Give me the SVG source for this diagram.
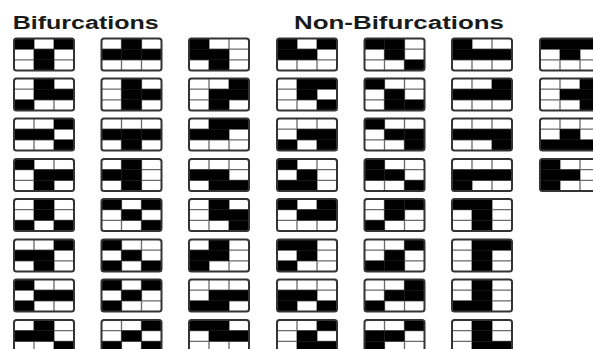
<svg xmlns="http://www.w3.org/2000/svg" xmlns:xlink="http://www.w3.org/1999/xlink" width="593" height="349" viewBox="0 0 593 349">
<style>
.ttl{font-family:"Liberation Sans",Arial,sans-serif;font-weight:bold;font-size:18px;fill:#1a1a1a}
.ln{fill:none;stroke:#6a6a6a;stroke-width:1.3}
.bd{fill:none;stroke:#333;stroke-width:2}
.k{fill:#000}
</style>
<defs>
<rect id="bg" x="0" y="0" width="60" height="32" fill="#fff"/>
<path id="lines" class="ln" d="M20 0V32M40 0V32M0 10.667H60M0 21.333H60"/>
<rect id="border" class="bd" x="0" y="0" width="60" height="32" rx="2.5"/>
<rect id="k0" class="k" x="0" y="0" width="20" height="10.667"/>
<rect id="k1" class="k" x="20" y="0" width="20" height="10.667"/>
<rect id="k2" class="k" x="40" y="0" width="20" height="10.667"/>
<rect id="k3" class="k" x="0" y="10.667" width="20" height="10.667"/>
<rect id="k4" class="k" x="20" y="10.667" width="20" height="10.667"/>
<rect id="k5" class="k" x="40" y="10.667" width="20" height="10.667"/>
<rect id="k6" class="k" x="0" y="21.333" width="20" height="10.667"/>
<rect id="k7" class="k" x="20" y="21.333" width="20" height="10.667"/>
<rect id="k8" class="k" x="40" y="21.333" width="20" height="10.667"/>
</defs>
<rect width="593" height="349" fill="#fff"/>
<g id="titles">
<text class="ttl" x="12.7" y="29" textLength="146" lengthAdjust="spacingAndGlyphs">Bifurcations</text>
<text class="ttl" x="294" y="29" textLength="210" lengthAdjust="spacingAndGlyphs">Non-Bifurcations</text>
</g>
<!-- Column 1 -->
<g id="b1r1" transform="translate(14,38.5)"><use href="#lines"/><use href="#k0"/><use href="#k2"/><use href="#k4"/><use href="#k7"/><use href="#border"/></g>
<g id="b1r2" transform="translate(14,78.5)"><use href="#lines"/><use href="#k1"/><use href="#k4"/><use href="#k5"/><use href="#k6"/><use href="#border"/></g>
<g id="b1r3" transform="translate(14,118.5)"><use href="#lines"/><use href="#k2"/><use href="#k3"/><use href="#k4"/><use href="#k8"/><use href="#border"/></g>
<g id="b1r4" transform="translate(14,159)"><use href="#lines"/><use href="#k0"/><use href="#k4"/><use href="#k5"/><use href="#k7"/><use href="#border"/></g>
<g id="b1r5" transform="translate(14,199)"><use href="#lines"/><use href="#k1"/><use href="#k4"/><use href="#k6"/><use href="#k8"/><use href="#border"/></g>
<g id="b1r6" transform="translate(14,239.5)"><use href="#lines"/><use href="#k2"/><use href="#k3"/><use href="#k4"/><use href="#k7"/><use href="#border"/></g>
<g id="b1r7" transform="translate(14,279.5)"><use href="#lines"/><use href="#k0"/><use href="#k4"/><use href="#k5"/><use href="#k6"/><use href="#border"/></g>
<g id="b1r8" transform="translate(14,320)"><use href="#lines"/><use href="#k1"/><use href="#k3"/><use href="#k4"/><use href="#k8"/><use href="#border"/></g>
<!-- Column 2 -->
<g id="b2r1" transform="translate(101.5,38.5)"><use href="#lines"/><use href="#k1"/><use href="#k3"/><use href="#k4"/><use href="#k5"/><use href="#border"/></g>
<g id="b2r2" transform="translate(101.5,78.5)"><use href="#lines"/><use href="#k1"/><use href="#k4"/><use href="#k5"/><use href="#k7"/><use href="#border"/></g>
<g id="b2r3" transform="translate(101.5,118.5)"><use href="#lines"/><use href="#k3"/><use href="#k4"/><use href="#k5"/><use href="#k7"/><use href="#border"/></g>
<g id="b2r4" transform="translate(101.5,159)"><use href="#lines"/><use href="#k1"/><use href="#k3"/><use href="#k4"/><use href="#k7"/><use href="#border"/></g>
<g id="b2r5" transform="translate(101.5,199)"><use href="#lines"/><use href="#k0"/><use href="#k2"/><use href="#k4"/><use href="#k8"/><use href="#border"/></g>
<g id="b2r6" transform="translate(101.5,239.5)"><use href="#lines"/><use href="#k0"/><use href="#k4"/><use href="#k6"/><use href="#k8"/><use href="#border"/></g>
<g id="b2r7" transform="translate(101.5,279.5)"><use href="#lines"/><use href="#k0"/><use href="#k2"/><use href="#k4"/><use href="#k6"/><use href="#border"/></g>
<g id="b2r8" transform="translate(101.5,320)"><use href="#lines"/><use href="#k2"/><use href="#k4"/><use href="#k6"/><use href="#k8"/><use href="#border"/></g>
<!-- Column 3 -->
<g id="b3r1" transform="translate(189,38.5)"><use href="#lines"/><use href="#k0"/><use href="#k3"/><use href="#k4"/><use href="#k7"/><use href="#border"/></g>
<g id="b3r2" transform="translate(189,78.5)"><use href="#lines"/><use href="#k2"/><use href="#k4"/><use href="#k5"/><use href="#k7"/><use href="#border"/></g>
<g id="b3r3" transform="translate(189,118.5)"><use href="#lines"/><use href="#k1"/><use href="#k2"/><use href="#k3"/><use href="#k4"/><use href="#border"/></g>
<g id="b3r4" transform="translate(189,159)"><use href="#lines"/><use href="#k3"/><use href="#k4"/><use href="#k7"/><use href="#k8"/><use href="#border"/></g>
<g id="b3r5" transform="translate(189,199)"><use href="#lines"/><use href="#k1"/><use href="#k4"/><use href="#k5"/><use href="#k8"/><use href="#border"/></g>
<g id="b3r6" transform="translate(189,239.5)"><use href="#lines"/><use href="#k1"/><use href="#k3"/><use href="#k4"/><use href="#k6"/><use href="#border"/></g>
<g id="b3r7" transform="translate(189,279.5)"><use href="#lines"/><use href="#k4"/><use href="#k5"/><use href="#k6"/><use href="#k7"/><use href="#border"/></g>
<g id="b3r8" transform="translate(189,320)"><use href="#lines"/><use href="#k0"/><use href="#k1"/><use href="#k4"/><use href="#k5"/><use href="#border"/></g>
<!-- Column 4 -->
<g id="n4r1" transform="translate(277,38.5)"><use href="#lines"/><use href="#k0"/><use href="#k2"/><use href="#k3"/><use href="#k4"/><use href="#border"/></g>
<g id="n4r2" transform="translate(277,78.5)"><use href="#lines"/><use href="#k1"/><use href="#k2"/><use href="#k4"/><use href="#k8"/><use href="#border"/></g>
<g id="n4r3" transform="translate(277,118.5)"><use href="#lines"/><use href="#k4"/><use href="#k5"/><use href="#k6"/><use href="#k8"/><use href="#border"/></g>
<g id="n4r4" transform="translate(277,159)"><use href="#lines"/><use href="#k0"/><use href="#k4"/><use href="#k6"/><use href="#k7"/><use href="#border"/></g>
<g id="n4r5" transform="translate(277,199)"><use href="#lines"/><use href="#k0"/><use href="#k2"/><use href="#k4"/><use href="#k5"/><use href="#border"/></g>
<g id="n4r6" transform="translate(277,239.5)"><use href="#lines"/><use href="#k0"/><use href="#k1"/><use href="#k4"/><use href="#k6"/><use href="#border"/></g>
<g id="n4r7" transform="translate(277,279.5)"><use href="#lines"/><use href="#k3"/><use href="#k4"/><use href="#k6"/><use href="#k8"/><use href="#border"/></g>
<g id="n4r8" transform="translate(277,320)"><use href="#lines"/><use href="#k2"/><use href="#k4"/><use href="#k7"/><use href="#k8"/><use href="#border"/></g>
<!-- Column 5 -->
<g id="n5r1" transform="translate(364.5,38.5)"><use href="#lines"/><use href="#k0"/><use href="#k1"/><use href="#k4"/><use href="#k8"/><use href="#border"/></g>
<g id="n5r2" transform="translate(364.5,78.5)"><use href="#lines"/><use href="#k0"/><use href="#k4"/><use href="#k7"/><use href="#k8"/><use href="#border"/></g>
<g id="n5r3" transform="translate(364.5,118.5)"><use href="#lines"/><use href="#k0"/><use href="#k4"/><use href="#k5"/><use href="#k8"/><use href="#border"/></g>
<g id="n5r4" transform="translate(364.5,159)"><use href="#lines"/><use href="#k0"/><use href="#k3"/><use href="#k4"/><use href="#k8"/><use href="#border"/></g>
<g id="n5r5" transform="translate(364.5,199)"><use href="#lines"/><use href="#k1"/><use href="#k2"/><use href="#k4"/><use href="#k6"/><use href="#border"/></g>
<g id="n5r6" transform="translate(364.5,239.5)"><use href="#lines"/><use href="#k2"/><use href="#k4"/><use href="#k6"/><use href="#k7"/><use href="#border"/></g>
<g id="n5r7" transform="translate(364.5,279.5)"><use href="#lines"/><use href="#k2"/><use href="#k4"/><use href="#k5"/><use href="#k6"/><use href="#border"/></g>
<g id="n5r8" transform="translate(364.5,320)"><use href="#lines"/><use href="#k2"/><use href="#k3"/><use href="#k4"/><use href="#k6"/><use href="#border"/></g>
<!-- Column 6 -->
<g id="n6r1" transform="translate(452,38.5)"><use href="#lines"/><use href="#k0"/><use href="#k3"/><use href="#k4"/><use href="#k5"/><use href="#border"/></g>
<g id="n6r2" transform="translate(452,78.5)"><use href="#lines"/><use href="#k2"/><use href="#k3"/><use href="#k4"/><use href="#k5"/><use href="#border"/></g>
<g id="n6r3" transform="translate(452,118.5)"><use href="#lines"/><use href="#k3"/><use href="#k4"/><use href="#k5"/><use href="#k8"/><use href="#border"/></g>
<g id="n6r4" transform="translate(452,159)"><use href="#lines"/><use href="#k3"/><use href="#k4"/><use href="#k5"/><use href="#k6"/><use href="#border"/></g>
<g id="n6r5" transform="translate(452,199)"><use href="#lines"/><use href="#k0"/><use href="#k1"/><use href="#k4"/><use href="#k7"/><use href="#border"/></g>
<g id="n6r6" transform="translate(452,239.5)"><use href="#lines"/><use href="#k1"/><use href="#k2"/><use href="#k4"/><use href="#k7"/><use href="#border"/></g>
<g id="n6r7" transform="translate(452,279.5)"><use href="#lines"/><use href="#k1"/><use href="#k4"/><use href="#k6"/><use href="#k7"/><use href="#border"/></g>
<g id="n6r8" transform="translate(452,320)"><use href="#lines"/><use href="#k1"/><use href="#k4"/><use href="#k7"/><use href="#k8"/><use href="#border"/></g>
<!-- Column 7 -->
<g id="n7r1" transform="translate(540,38.5)"><use href="#lines"/><use href="#k0"/><use href="#k1"/><use href="#k2"/><use href="#k4"/><use href="#border"/></g>
<g id="n7r2" transform="translate(540,78.5)"><use href="#lines"/><use href="#k2"/><use href="#k4"/><use href="#k5"/><use href="#k8"/><use href="#border"/></g>
<g id="n7r3" transform="translate(540,118.5)"><use href="#lines"/><use href="#k4"/><use href="#k6"/><use href="#k7"/><use href="#k8"/><use href="#border"/></g>
<g id="n7r4" transform="translate(540,159)"><use href="#lines"/><use href="#k0"/><use href="#k3"/><use href="#k4"/><use href="#k6"/><use href="#border"/></g>
</svg>
